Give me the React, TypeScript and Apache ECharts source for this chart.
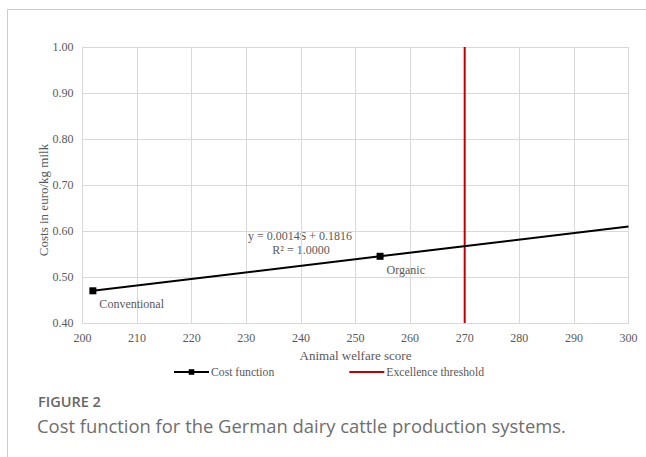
import React, { useEffect, useRef } from "react";
import * as echarts from "echarts";

const xTicks = { min: 200, max: 300, interval: 10 };
const yTicks = { min: 0.4, max: 1.0, interval: 0.1 };
const costPoints: [number, number][] = [
  [201.9, 0.47],
  [254.5, 0.545],
  [300, 0.61],
];
const pointNames = ["Conventional", "Organic", ""];
const thresholdX = 270;
const thresholdRange = [0.4, 1.0];
const equationLines = ["y = 0.0014S + 0.1816", "R² = 1.0000"];
const seriesNames = ["Cost function", "Excellence threshold"];
const xAxisName = "Animal welfare score";
const yAxisName = "Costs in euro/kg milk";
const captionTitle = "FIGURE 2";
const captionText = "Cost function for the German dairy cattle production systems.";

const serif = "Liberation Serif";
const sans = "Open Sans";
const textGray = "#595959";

export default function App() {
  const ref = useRef<HTMLDivElement>(null);
  useEffect(() => {
    const chart = echarts.init(ref.current!, null, { renderer: "svg" });
    chart.setOption({
      animation: false,
      backgroundColor: "#ffffff",
      textStyle: { fontFamily: serif },
      grid: { left: 82.5, right: 17.5, top: 47, bottom: 134 },
      xAxis: {
        type: "value",
        min: xTicks.min,
        max: xTicks.max,
        interval: xTicks.interval,
        name: xAxisName,
        nameLocation: "middle",
        nameGap: 25,
        nameTextStyle: { fontFamily: serif, fontSize: 13, color: textGray },
        axisLine: { lineStyle: { color: "#d9d9d9" } },
        axisTick: { show: false },
        axisLabel: { fontFamily: serif, fontSize: 12, color: textGray, margin: 9 },
        splitLine: { show: true, lineStyle: { color: "#d9d9d9" } },
      },
      yAxis: {
        type: "value",
        min: yTicks.min,
        max: yTicks.max,
        interval: yTicks.interval,
        axisLine: { show: true, lineStyle: { color: "#d9d9d9" } },
        axisTick: { show: false },
        axisLabel: {
          fontFamily: serif,
          fontSize: 12,
          color: textGray,
          margin: 9,
          formatter: (v: number) => v.toFixed(2),
        },
        splitLine: { show: true, lineStyle: { color: "#d9d9d9" } },
      },
      legend: {
        left: 168,
        top: 361,
        itemWidth: 35,
        itemHeight: 7,
        itemGap: 74,
        padding: 5,
        textStyle: { fontFamily: serif, fontSize: 11.7, color: textGray, padding: [0, 0, 0, -3] },
        data: [
          { name: seriesNames[0] },
          { name: seriesNames[1], itemStyle: { opacity: 0 } },
        ],
      },
      series: [
        {
          name: seriesNames[1],
          type: "line",
          data: [
            [thresholdX, thresholdRange[0]],
            [thresholdX, thresholdRange[1]],
          ],
          symbol: "none",
          lineStyle: { color: "#c00000", width: 2 },
          itemStyle: { color: "#c00000" },
          z: 2,
        },
        {
          name: seriesNames[0],
          type: "line",
          data: costPoints.map((p, i) => ({
            value: p,
            name: pointNames[i],
            symbol: pointNames[i] ? "rect" : "none",
            label: {
              show: !!pointNames[i],
              formatter: pointNames[i],
              position: [10, 11],
              fontFamily: serif,
              fontSize: 12,
              color: textGray,
            },
          })),
          symbol: "rect",
          symbolSize: 7,
          lineStyle: { color: "#000000", width: 2 },
          itemStyle: { color: "#000000" },
          z: 3,
        },
      ],
      graphic: [
        {
          type: "line",
          shape: { x1: 7.5, y1: 9.5, x2: 646, y2: 9.5 },
          style: { stroke: "#cccccc", lineWidth: 1 },
        },
        {
          type: "line",
          shape: { x1: 7.5, y1: 9.5, x2: 7.5, y2: 457 },
          style: { stroke: "#cccccc", lineWidth: 1 },
        },
        {
          type: "text",
          x: 43,
          y: 200,
          rotation: Math.PI / 2,
          style: {
            text: yAxisName,
            font: `13px ${serif}`,
            fill: textGray,
            textAlign: "center",
            textVerticalAlign: "middle",
          },
        },
        {
          type: "text",
          x: 300,
          y: 236,
          style: {
            text: equationLines[0],
            font: `12px ${serif}`,
            fill: textGray,
            textAlign: "center",
            textVerticalAlign: "middle",
          },
        },
        {
          type: "text",
          x: 301,
          y: 249.5,
          style: {
            text: equationLines[1],
            font: `12px ${serif}`,
            fill: textGray,
            textAlign: "center",
            textVerticalAlign: "middle",
          },
        },
        {
          type: "text",
          x: 38,
          y: 401,
          style: {
            text: captionTitle,
            font: `600 14.5px ${sans}`,
            fill: "#666666",
            textVerticalAlign: "middle",
          },
        },
        {
          type: "text",
          x: 37,
          y: 425,
          style: {
            text: captionText,
            font: `18.4px ${sans}`,
            fill: "#6e6e6e",
            textVerticalAlign: "middle",
          },
        },
      ],
    });
    return () => chart.dispose();
  }, []);
  return (
    <div
      ref={ref}
      style={{ position: "fixed", left: 0, top: 0, width: 646, height: 457 }}
    />
  );
}
